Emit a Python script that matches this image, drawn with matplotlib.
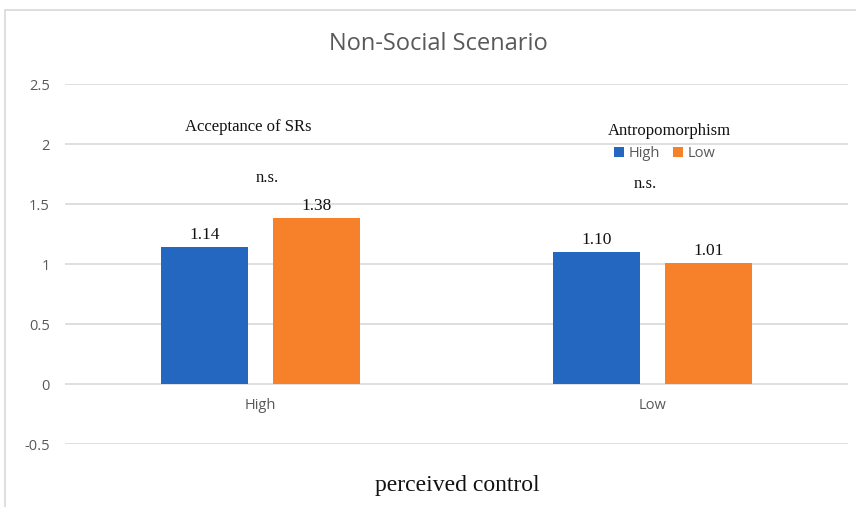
import matplotlib.pyplot as plt
import numpy as np
from matplotlib.patches import Rectangle

# data
groups = ['High', 'Low']
series = ['High', 'Low']
high_vals = [1.14, 1.10]
low_vals = [1.38, 1.01]
colors = ['#2467C1', '#F7802A']

W, H = 856, 507
fig = plt.figure(figsize=(W/100, H/100), dpi=100)
ax = fig.add_axes([65/W, 1-444/H, (848-65)/W, (444-84)/H])

x = np.arange(len(groups))
bw = 0.222
off = 0.143
b1 = ax.bar(x - off, high_vals, bw, color=colors[0], label=series[0], zorder=3)
b2 = ax.bar(x + off, low_vals, bw, color=colors[1], label=series[1], zorder=3)

for bars in (b1, b2):
    for b in bars:
        ax.text(b.get_x() + b.get_width()/2, b.get_height() + 0.035, '%.2f' % b.get_height(),
                ha='center', va='bottom', family='Liberation Serif', fontsize=12.5, color='#111111')

ax.set_xlim(-0.5, 1.5)
ax.set_ylim(-0.5, 2.5)
ax.set_yticks([-0.5, 0, 0.5, 1, 1.5, 2, 2.5])
ax.set_yticklabels(['-0.5', '0', '0.5', '1', '1.5', '2', '2.5'])
ax.set_xticks(x)
ax.set_xticklabels(groups)
ax.grid(axis='y', color='#d9d9d9', linewidth=1.2, zorder=0)
for s in ax.spines.values():
    s.set_visible(False)
ax.spines['bottom'].set_position(('data', 0))
ax.tick_params(axis='both', length=0, labelsize=10.5, labelcolor='#595959')
ax.tick_params(axis='x', pad=10)
ax.tick_params(axis='y', pad=11)
for lab in ax.get_xticklabels() + ax.get_yticklabels():
    lab.set_family('Open Sans')

# annotations
serif = dict(family='Liberation Serif', fontsize=12, color='#111111', ha='center', va='center')
ax.text(-0.033, 2.142, 'Acceptance of SRs', **serif)
ax.text(0.016, 1.717, 'n.s.', **serif)
ax.text(0.981, 1.667, 'n.s.', **serif)
ax.text(1.045, 2.108, 'Antropomorphism', **serif)

leg = ax.legend(loc='center', bbox_to_anchor=(0.766, 0.806), ncol=2, frameon=False,
                handlelength=0.7, handleheight=0.7, handletextpad=0.3, columnspacing=0.9,
                prop={'family': 'Open Sans', 'size': 10.5})
for t in leg.get_texts():
    t.set_color('#595959')

fig.text(438/W, 1-44/H, 'Non-Social Scenario', ha='center', va='center',
         family='Open Sans', fontsize=17, color='#595959')
fig.text(457/W, 1-486/H, 'perceived control', ha='center', va='center',
         family='Liberation Serif', fontsize=17, color='#111111')

# chart border
fig.patches.append(Rectangle((5/W, -0.1), 1.2, 1-10/H+0.1, transform=fig.transFigure,
                             fill=False, edgecolor='#d9d9d9', linewidth=1.2))

fig.savefig('out.png', dpi=100)
